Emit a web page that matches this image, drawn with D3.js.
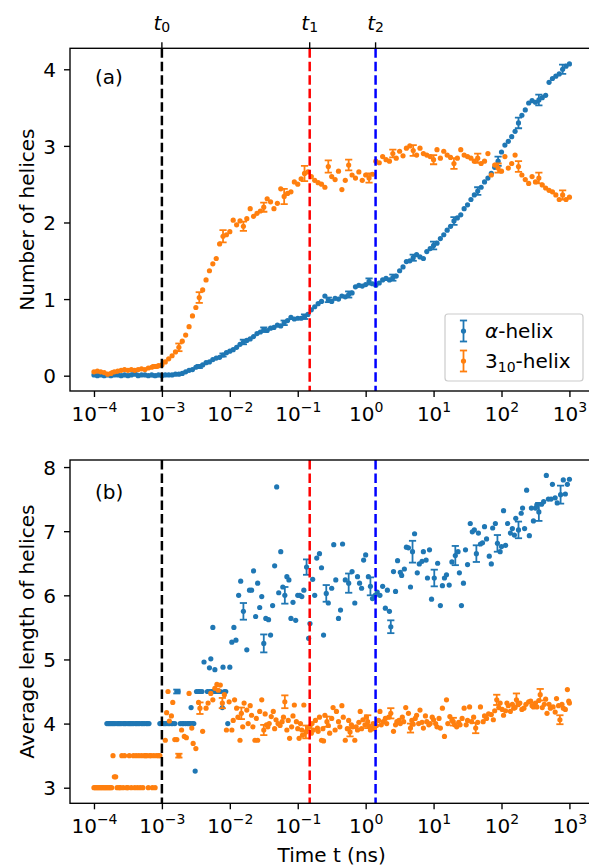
<!DOCTYPE html>
<html>
<head>
<meta charset="utf-8">
<script src="https://cdn.jsdelivr.net/npm/d3@7"></script>
<style>
body { margin: 0; background: #fff; }
svg { display: block; font-family: "DejaVu Sans", sans-serif; }
</style>
</head>
<body>
<div id="chart"></div>
<script>
// sample times of panel (a), as log10(t / ns)
var timeA = [
  -4.00,-3.95,-3.90,-3.85,-3.80,-3.75,-3.70,-3.65,-3.60,-3.55,
  -3.50,-3.45,-3.40,-3.35,-3.30,-3.25,-3.20,-3.15,-3.10,-3.05,
  -3.00,-2.95,-2.90,-2.85,-2.80,-2.75,-2.70,-2.65,-2.60,-2.55,
  -2.50,-2.45,-2.40,-2.35,-2.30,-2.25,-2.20,-2.15,-2.10,-2.05,
  -2.00,-1.95,-1.90,-1.85,-1.80,-1.75,-1.70,-1.65,-1.60,-1.55,
  -1.50,-1.45,-1.40,-1.35,-1.30,-1.25,-1.20,-1.15,-1.10,-1.05,
  -1.00,-0.95,-0.90,-0.85,-0.80,-0.75,-0.70,-0.65,-0.60,-0.55,
  -0.50,-0.45,-0.40,-0.35,-0.30,-0.25,-0.20,-0.15,-0.10,-0.05,
  0.00,0.05,0.10,0.15,0.20,0.25,0.30,0.35,0.40,0.45,
  0.50,0.55,0.60,0.65,0.70,0.75,0.80,0.85,0.90,0.95,
  1.00,1.05,1.10,1.15,1.20,1.25,1.30,1.35,1.40,1.45,
  1.50,1.55,1.60,1.65,1.70,1.75,1.80,1.85,1.90,1.95,
  2.00,2.05,2.10,2.15,2.20,2.25,2.30,2.35,2.40,2.45,
  2.50,2.55,2.60,2.65,2.70,2.75,2.80,2.85,2.90,2.95,
  3.00
];
// number of alpha helices
var alphaCount = [
  0.01,0.00,0.01,0.00,0.01,0.00,0.01,0.01,0.00,0.01,
  0.00,0.01,0.02,0.00,0.01,0.01,0.00,0.01,0.00,0.01,
  0.00,0.01,0.01,0.01,0.02,0.02,0.03,0.05,0.07,0.08,
  0.11,0.12,0.14,0.17,0.18,0.21,0.23,0.24,0.27,0.30,
  0.32,0.34,0.37,0.41,0.44,0.46,0.48,0.51,0.55,0.57,
  0.60,0.59,0.62,0.63,0.66,0.65,0.69,0.72,0.76,0.74,
  0.75,0.75,0.77,0.80,0.86,0.90,0.94,0.97,1.04,0.99,
  0.97,1.01,1.00,1.04,1.03,1.06,1.08,1.16,1.18,1.17,
  1.19,1.23,1.20,1.18,1.21,1.25,1.27,1.25,1.28,1.30,
  1.37,1.42,1.49,1.50,1.54,1.58,1.55,1.53,1.62,1.66,
  1.70,1.73,1.79,1.84,1.90,1.95,2.02,2.06,2.10,2.18,
  2.23,2.30,2.36,2.41,2.46,2.53,2.58,2.64,2.72,2.80,
  2.92,3.01,3.06,3.12,3.19,3.30,3.40,3.47,3.56,3.59,
  3.57,3.60,3.63,3.66,3.83,3.88,3.91,3.94,4.00,4.04,
  4.07
];
// number of 3_10 helices
var tenCount = [
  0.05,0.06,0.05,0.04,0.02,0.03,0.05,0.06,0.07,0.08,
  0.07,0.08,0.07,0.08,0.09,0.08,0.10,0.11,0.12,0.13,
  0.14,0.18,0.22,0.26,0.31,0.37,0.45,0.53,0.64,0.78,
  0.89,1.02,1.12,1.25,1.37,1.46,1.53,1.72,1.82,1.84,
  1.88,2.03,1.97,2.02,1.95,2.05,2.18,2.08,2.12,2.15,
  2.20,2.31,2.27,2.18,2.25,2.44,2.34,2.38,2.40,2.53,
  2.50,2.57,2.64,2.66,2.60,2.55,2.52,2.50,2.46,2.73,
  2.60,2.56,2.67,2.43,2.55,2.75,2.62,2.58,2.66,2.55,
  2.62,2.58,2.63,2.80,2.78,2.86,2.82,2.80,2.90,2.84,
  2.93,2.87,2.97,3.00,2.94,2.88,2.97,2.90,2.88,2.86,
  2.82,2.95,2.84,2.93,2.88,2.85,2.77,2.84,2.95,2.88,
  2.86,2.84,2.80,2.84,2.77,2.80,2.90,2.62,2.75,2.71,
  2.67,2.86,2.71,2.77,2.88,2.73,2.62,2.56,2.51,2.60,
  2.53,2.58,2.49,2.45,2.42,2.40,2.36,2.30,2.36,2.30,
  2.33
];
// error bars of panel (a): times and half widths
var errTimeA = [-3.70,-3.40,-3.10,-2.75,-2.45,-2.10,-1.80,-1.50,-1.20,-0.90,-0.55,
                -0.25,0.05,0.40,0.70,1.00,1.30,1.65,1.95,2.25,2.55,2.90];
var alphaCountErr = [0.01,0.01,0.01,0.01,0.02,0.02,0.03,0.03,0.03,0.03,0.03,
                     0.04,0.04,0.04,0.04,0.05,0.05,0.05,0.06,0.07,0.07,0.06];
var tenCountErr = [0.01,0.01,0.02,0.05,0.07,0.08,0.06,0.06,0.10,0.10,0.08,
                   0.07,0.06,0.05,0.07,0.06,0.07,0.06,0.06,0.07,0.07,0.06];

// panel (b): [log10 t, average length, error half width (optional)]
var alphaLength = [
  [-3.81,4],[-3.79,4],[-3.77,4],[-3.75,4],[-3.73,4],[-3.71,4],[-3.69,4],[-3.66,4],[-3.64,4],[-3.62,4],
  [-3.60,4],[-3.57,4],[-3.55,4],[-3.53,4],[-3.50,4],[-3.48,4],[-3.46,4],[-3.44,4],[-3.42,4],[-3.39,4],
  [-3.37,4],[-3.35,4],[-3.33,4],[-3.30,4],[-3.28,4],[-3.26,4],[-3.23,4],[-3.21,4],[-3.19,4],
  [-3.03,4],[-3.01,4],[-2.98,4],[-2.96,4],[-2.94,4],[-2.91,4],[-2.89,4],[-2.86,4],[-2.84,4],[-2.81,4],
  [-2.78,4.5,0.03],[-2.76,4.5],[-2.73,4],[-2.70,4],[-2.68,4],[-2.65,4],[-2.62,4],[-2.60,4],[-2.58,4],
  [-2.55,4],[-2.53,4],[-2.57,4.25],[-2.51,3.26],
  [-2.49,4.5],[-2.46,4.5],[-2.44,4.5],[-2.41,4.5],[-2.33,4.5],[-2.30,4.5],[-2.27,4.5],[-2.24,4.5],
  [-2.21,4.5],[-2.17,4.5],[-2.14,4.5],[-2.11,4.25],[-2.08,4.5],[-2.06,4.5],[-2.03,4.0],
  [-2.38,4.96],[-2.30,4.87],[-2.28,5.01],[-2.25,5.5],[-2.22,4.84],[-2.10,4.88],[-2.00,4.88],
  [-1.97,5.27],[-1.94,5.5],[-1.91,5.3],[-1.87,6.0],[-1.84,6.22],[-1.80,5.75,0.13],[-1.75,5.15],
  [-1.71,6.08],[-1.68,6.08],[-1.65,6.38],[-1.62,5.67],[-1.59,6.19],[-1.56,5.81],[-1.53,5.98],
  [-1.50,5.25,0.14],[-1.47,5.64],[-1.43,5.62],[-1.40,5.38],[-1.37,5.84],[-1.34,6.46],[-1.31,7.69],
  [-1.28,6.04],[-1.25,6.68],[-1.22,6.13],[-1.19,6.0,0.13],[-1.16,6.29],[-1.13,6.24],[-1.10,5.64],
  [-1.07,5.89],[-1.03,5.61],[-1.00,6.0],[-0.97,6.0],[-0.94,5.98],[-0.91,6.08],[-0.87,6.44,0.12],
  [-0.84,5.33],[-0.82,5.56],[-0.78,6.25],[-0.75,6.0],[-0.72,6.58],[-0.68,6.65],[-0.65,6.43],
  [-0.62,5.38],[-0.58,6.03,0.13],[-0.55,5.88],[-0.50,6.11],[-0.47,6.79],[-0.44,6.24],[-0.40,5.64],
  [-0.37,5.77],[-0.34,6.8],[-0.30,6.24],[-0.25,6.19,0.15],[-0.20,6.37],[-0.16,5.88],[-0.12,6.29],
  [-0.09,6.19],[-0.06,6.11],[-0.03,6.55],[0.00,6.63],[0.04,6.29],[0.07,6.14,0.14],[0.10,5.95],
  [0.14,6.0],[0.17,6.05],[0.21,6.0],[0.25,6.14],[0.29,5.8],[0.32,6.08],[0.35,5.75],[0.37,5.51,0.1],
  [0.41,6.37],[0.44,6.06],[0.47,6.54],[0.51,6.36],[0.53,6.31],[0.57,6.41],[0.60,6.75],[0.63,6.74],
  [0.66,6.13],[0.69,6.68,0.17],[0.72,6.96],[0.76,6.35],[0.79,6.49],[0.83,6.53],[0.85,6.68],
  [0.89,6.55],[0.91,6.27],[0.94,6.71],[0.97,5.94],[1.01,6.27,0.13],[1.06,6.5],[1.10,5.84],
  [1.13,6.15],[1.16,6.27],[1.19,6.32],[1.23,6.16],[1.27,6.52],[1.32,6.62,0.15],[1.36,6.68],
  [1.38,6.35],[1.41,5.84],[1.44,6.19],[1.47,6.71],[1.50,6.48],[1.54,7.12],[1.57,6.99],[1.60,7.02],
  [1.63,6.65,0.13],[1.66,6.97],[1.69,6.8],[1.72,6.82],[1.75,7.07],[1.78,6.88],[1.82,6.61],
  [1.85,6.49],[1.87,7.05],[1.91,7.12],[1.94,6.81,0.13],[1.98,6.68],[2.00,6.76],[2.03,7.32],
  [2.06,6.78],[2.09,7.12],[2.13,6.97],[2.16,7.04],[2.19,6.94],[2.21,7.2],[2.25,7.02,0.13],
  [2.29,7.28],[2.31,7.36],[2.34,7.04],[2.37,7.64],[2.41,6.93],[2.44,7.36],[2.47,7.16],[2.50,7.36],
  [2.52,7.41],[2.55,7.3,0.14],[2.59,7.42],[2.62,7.46],[2.66,7.87],[2.69,7.5],[2.73,7.5],[2.75,7.73],
  [2.79,7.52],[2.82,7.44],[2.87,7.57,0.14],[2.91,7.8],[2.94,7.58],[2.97,7.73],[3.00,7.81]
];
var tenLength = [
  [-4.00,3],[-3.98,3],[-3.96,3],[-3.94,3],[-3.92,3],[-3.90,3],[-3.88,3],[-3.86,3],[-3.84,3],[-3.82,3],
  [-3.80,3],[-3.78,3],[-3.76,3],[-3.74,3],[-3.72,3.5],[-3.70,3.17],[-3.68,3.17],[-3.66,3],[-3.63,3],
  [-3.61,3],[-3.59,3.5],[-3.57,3],[-3.55,3.5],[-3.52,3],[-3.50,3],[-3.48,3.5],[-3.45,3],[-3.42,3.5],
  [-3.40,3],[-3.38,3.5],[-3.36,3],[-3.34,3.5],[-3.32,3],[-3.30,3.5],[-3.28,3],[-3.26,3.5],[-3.24,3.5],
  [-3.22,3.5],[-3.20,3],[-3.18,3.5],[-3.16,3.5],[-3.14,3],[-3.12,3.5],[-3.10,3],[-3.08,3.5],
  [-3.05,3.5],[-3.03,3.5],
  [-2.95,3.74],[-2.93,4.17],[-2.91,4.5],[-2.89,4.04],[-2.86,4.12],[-2.84,4.33],[-2.81,3.75],
  [-2.78,3.75],[-2.75,3.5,0.03],[-2.71,3.9],[-2.67,3.8],[-2.64,3.78],[-2.60,4.47],[-2.56,3.93],
  [-2.54,3.69],[-2.50,3.61],[-2.46,4.33],[-2.44,4.24,0.09],[-2.40,3.88],[-2.35,4.24],[-2.32,4.32],
  [-2.28,4.47],[-2.25,4.37],[-2.22,4.55],[-2.19,4.61],[-2.17,4.52],[-2.14,4.6],[-2.11,4.32,0.08],
  [-2.08,4.45],[-2.05,3.9],[-2.01,4.34],[-1.97,3.9],[-1.93,4.37],[-1.90,4.24],[-1.85,3.74],
  [-1.83,4.16,0.09],[-1.79,4.32],[-1.75,4.21],[-1.70,4.28],[-1.68,4.13],[-1.63,3.74],[-1.59,3.74],
  [-1.56,4.19],[-1.53,4.37],[-1.50,3.9,0.08],[-1.46,3.98],[-1.42,4.0],[-1.39,4.11],[-1.36,4.19],
  [-1.32,4.06],[-1.29,4.0],[-1.26,3.97],[-1.23,4.03],[-1.19,4.34,0.1],[-1.16,3.9],[-1.12,3.77],
  [-1.09,3.95],[-1.05,4.29],[-1.02,4.03],[-0.98,3.77],[-0.94,3.9],[-0.91,4.29],[-0.88,3.87,0.1],
  [-0.85,3.93],[-0.82,3.95],[-0.80,3.85],[-0.77,3.9],[-0.74,4.05],[-0.71,3.93],[-0.68,4.1],
  [-0.65,3.74],[-0.62,3.73],[-0.60,4.13],[-0.57,4.03,0.08],[-0.53,3.85],[-0.48,4.25],[-0.43,4.19],
  [-0.40,4.03],[-0.35,4.28],[-0.30,3.74],[-0.27,3.92],[-0.23,3.87,0.07],[-0.19,3.95],[-0.16,3.74],
  [-0.12,3.9],[-0.08,4.19],[-0.04,4.06],[-0.01,3.98],[0.03,4.03,0.1],[0.07,3.9],[0.11,4.0],
  [0.16,3.97],[0.21,4.19],[0.26,4.03],[0.31,4.0],[0.37,4.16,0.08],[0.41,3.88],[0.46,4.03],
  [0.51,4.0],[0.56,4.03],[0.59,4.25],[0.63,4.16],[0.66,3.93,0.07],[0.70,3.99],[0.75,4.13],
  [0.80,4.21],[0.85,3.93],[0.90,4.03],[0.95,4.0],[1.00,4.06],[1.05,3.95],[1.10,3.93],[1.13,4.24],
  [1.16,3.8],[1.19,4.37],[1.24,4.11],[1.29,4.03,0.06],[1.34,3.95],[1.39,3.98],[1.45,4.24],
  [1.53,4.26],[1.56,4.03],[1.62,3.93,0.08],[1.69,4.26],[1.73,4.03],[1.78,4.08],[1.85,4.14],
  [1.88,4.06],[1.93,4.37,0.08],[1.98,4.32],[2.03,4.13],[2.08,4.32],[2.13,4.19],[2.18,4.24],
  [2.22,4.37,0.1],[2.27,4.32],[2.33,4.24],[2.40,4.34],[2.47,4.26],[2.52,4.26],[2.57,4.45,0.09],
  [2.63,4.3],[2.67,4.16],[2.72,4.24],[2.76,4.26],[2.81,4.39],[2.86,4.06,0.07],[2.91,4.24],
  [2.97,4.53],[3.00,4.32],
  [-1.95,4.05],[-1.88,4.1],[-1.81,3.95],[-1.73,4.0],[-1.66,3.95],[-1.61,4.08],[-1.48,4.15],
  [-1.44,3.95],[-1.34,3.92],[-1.21,4.1],[-1.14,4.05],[-1.07,4.12],[-1.00,3.92],[-0.96,4.0],
  [-0.93,3.82],[-0.79,4.0],[-0.70,3.88],[-0.63,3.92],[-0.55,3.97],[-0.50,4.08],[-0.45,3.9],
  [-0.38,3.95],[-0.33,4.1],[-0.25,4.05],[-0.21,3.98],[-0.14,3.95],[-0.10,4.02],[-0.06,3.92],
  [0.01,4.1],[0.05,3.96],[0.09,3.93],[0.13,3.92],[0.19,4.05],[0.23,3.98],[0.29,4.08],[0.34,4.1],
  [0.44,3.98],[0.49,4.05],[0.54,4.1],[0.68,4.05],[0.73,4.08],[0.78,4.0],[0.83,4.02],[0.88,4.12],
  [0.93,3.98],[0.98,4.1],[1.03,4.0],[1.08,4.08],[1.21,4.0],[1.27,4.05],[1.31,3.98],[1.37,4.02],
  [1.42,4.08],[1.48,3.98],[1.50,4.05],[1.59,4.1],[1.65,4.02],[1.75,4.12],[1.81,4.15],[1.90,4.2],
  [1.96,4.25],[2.01,4.22],[2.06,4.2],[2.10,4.28],[2.16,4.3],[2.20,4.25],[2.25,4.3],[2.30,4.22],
  [2.36,4.3],[2.43,4.35],[2.45,4.28],[2.50,4.32],[2.55,4.36],[2.60,4.25],[2.65,4.38],[2.70,4.3],
  [2.79,4.18],[2.84,4.28],[2.89,4.3],[2.94,4.22],[2.99,4.35]
];

// reference times t0, t1, t2 (ns)
var markTimes = [1e-3, 0.15, 1.4];
var markNames = ["0", "1", "2"];
var xTickExps = [-4, -3, -2, -1, 0, 1, 2, 3];
var countTicks = [0, 1, 2, 3, 4];
var lengthTicks = [3, 4, 5, 6, 7, 8];

var width = 589, height = 867;
var fs = 20, fsSmall = 14;
var blue = "#1f77b4", orange = "#ff7f0e";
var markColors = ["black", "red", "blue"];

var svg = d3.select("#chart").append("svg")
    .attr("width", width)
    .attr("height", height);

var left = 70, right = 593.4;
var x = d3.scaleLog()
    .domain([Math.pow(10, -4.353), Math.pow(10, 3.353)])
    .range([left, right]);

function pow10(e) { return Math.pow(10, e); }

function lookup(times, vals, t) { return vals[times.indexOf(t)]; }

var seriesA = [
  { color: blue, pts: timeA.map(function(t, i){ return [t, alphaCount[i]]; }),
    errs: errTimeA.map(function(t, i){ return [t, lookup(timeA, alphaCount, t), alphaCountErr[i]]; }) },
  { color: orange, pts: timeA.map(function(t, i){ return [t, tenCount[i]]; }),
    errs: errTimeA.map(function(t, i){ return [t, lookup(timeA, tenCount, t), tenCountErr[i]]; }) }
];
var seriesB = [
  { color: blue, pts: alphaLength, errs: alphaLength.filter(function(d){ return d.length > 2; }) },
  { color: orange, pts: tenLength, errs: tenLength.filter(function(d){ return d.length > 2; }) }
];

var panels = [
  { top: 48.3, bottom: 391, domain: [-0.2, 4.274], ticks: countTicks, series: seriesA,
    label: "Number of helices", tag: "(a)", tagY: 84 },
  { top: 460, bottom: 803.3, domain: [2.757, 8.11], ticks: lengthTicks, series: seriesB,
    label: "Average length of helices", tag: "(b)", tagY: 499 }
];

function expLabel(d) {
  var e = Math.round(Math.log10(d));
  return e < 0 ? "\u2212" + (-e) : "" + e;
}

panels.forEach(function(p, pi){
  var y = d3.scaleLinear().domain(p.domain).range([p.bottom, p.top]);
  var g = svg.append("g");

  var clipId = "clip" + pi;
  svg.append("clipPath").attr("id", clipId)
    .append("rect")
    .attr("x", left).attr("y", p.top)
    .attr("width", right - left).attr("height", p.bottom - p.top);

  var plot = g.append("g").attr("clip-path", "url(#" + clipId + ")");

  p.series.forEach(function(s){
    var eb = plot.append("g")
        .attr("stroke", s.color)
        .attr("stroke-width", 1.8);
    eb.selectAll("line.bar").data(s.errs).enter().append("line")
      .attr("class", "bar")
      .attr("x1", function(d){ return x(pow10(d[0])); })
      .attr("x2", function(d){ return x(pow10(d[0])); })
      .attr("y1", function(d){ return y(d[1] - d[2]); })
      .attr("y2", function(d){ return y(d[1] + d[2]); });
    [-1, 1].forEach(function(sign){
      eb.selectAll("line.cap" + sign).data(s.errs).enter().append("line")
        .attr("x1", function(d){ return x(pow10(d[0])) - 3.6; })
        .attr("x2", function(d){ return x(pow10(d[0])) + 3.6; })
        .attr("y1", function(d){ return y(d[1] + sign * d[2]); })
        .attr("y2", function(d){ return y(d[1] + sign * d[2]); });
    });
    plot.append("g").selectAll("circle").data(s.pts).enter().append("circle")
      .attr("cx", function(d){ return x(pow10(d[0])); })
      .attr("cy", function(d){ return y(d[1]); })
      .attr("r", 2.6)
      .attr("fill", s.color);
  });

  // reference lines
  plot.selectAll("line.mark").data(markTimes).enter().append("line")
    .attr("class", "mark")
    .attr("x1", function(d){ return x(d); })
    .attr("x2", function(d){ return x(d); })
    .attr("y1", p.top).attr("y2", p.bottom)
    .attr("stroke", function(d, i){ return markColors[i]; })
    .attr("stroke-width", 2.5)
    .attr("stroke-dasharray", "9.4,4.1");

  // x axis
  var xa = g.append("g")
    .attr("transform", "translate(0," + p.bottom + ")")
    .call(d3.axisBottom(x).tickValues(xTickExps.map(pow10)).tickSize(6).tickSizeOuter(0));
  xa.attr("font-family", null).attr("font-size", fs);
  xa.select(".domain").remove();
  xa.selectAll(".tick line").attr("stroke-width", 1.36);
  xa.selectAll(".tick text")
    .attr("y", 30).attr("dy", null).attr("fill", "black")
    .text(null)
    .each(function(d){
      var t = d3.select(this);
      t.append("tspan").text("10");
      t.append("tspan").attr("dy", -9).attr("font-size", fsSmall).text(expLabel(d));
    });

  // y axis
  var ya = g.append("g")
    .attr("transform", "translate(" + left + ",0)")
    .call(d3.axisLeft(y).tickValues(p.ticks).tickSize(6).tickPadding(8).tickFormat(d3.format("d")));
  ya.attr("font-family", null).attr("font-size", fs);
  ya.select(".domain").remove();
  ya.selectAll(".tick line").attr("stroke-width", 1.36);
  ya.selectAll(".tick text").attr("fill", "black").attr("dy", "0.36em");

  // frame
  g.append("rect")
    .attr("x", left).attr("y", p.top)
    .attr("width", right - left).attr("height", p.bottom - p.top)
    .attr("fill", "none").attr("stroke", "black").attr("stroke-width", 1.36);

  g.append("text")
    .attr("transform", "translate(33.5," + ((p.top + p.bottom) / 2) + ") rotate(-90)")
    .attr("text-anchor", "middle")
    .attr("font-size", fs)
    .text(p.label);

  g.append("text")
    .attr("x", 95).attr("y", p.tagY)
    .attr("font-size", fs)
    .text(p.tag);
});

// top ticks with t0, t1, t2
var topY = panels[0].top;
var marks = svg.append("g");
marks.selectAll("line").data(markTimes).enter().append("line")
  .attr("x1", function(d){ return x(d); })
  .attr("x2", function(d){ return x(d); })
  .attr("y1", topY).attr("y2", topY - 6)
  .attr("stroke", "black").attr("stroke-width", 1.36);
marks.selectAll("text").data(markTimes).enter().append("text")
  .attr("x", function(d){ return x(d); })
  .attr("y", 30)
  .attr("text-anchor", "middle")
  .attr("font-size", fs)
  .each(function(d, i){
    var t = d3.select(this);
    t.append("tspan").attr("font-style", "italic").text("t");
    t.append("tspan").attr("dy", 2).attr("font-size", fsSmall).text(markNames[i]);
  });

// legend
var lg = svg.append("g");
lg.append("rect")
  .attr("x", 445).attr("y", 314).attr("width", 138).attr("height", 67)
  .attr("rx", 3)
  .attr("fill", "white").attr("fill-opacity", 0.8)
  .attr("stroke", "#cccccc").attr("stroke-width", 1.2);
var legendItems = [
  { color: blue, cy: 331 },
  { color: orange, cy: 361 }
];
legendItems.forEach(function(item, i){
  var hx = 463.5;
  lg.append("line").attr("x1", hx).attr("x2", hx)
    .attr("y1", item.cy - 10.5).attr("y2", item.cy + 10.5)
    .attr("stroke", item.color).attr("stroke-width", 1.8);
  [-10.5, 10.5].forEach(function(off){
    lg.append("line").attr("x1", hx - 3.6).attr("x2", hx + 3.6)
      .attr("y1", item.cy + off).attr("y2", item.cy + off)
      .attr("stroke", item.color).attr("stroke-width", 1.8);
  });
  lg.append("circle").attr("cx", hx).attr("cy", item.cy).attr("r", 2.6).attr("fill", item.color);
  var t = lg.append("text").attr("x", 485).attr("y", item.cy + 6.5).attr("font-size", fs);
  if (i === 0) {
    t.append("tspan").attr("font-style", "italic").text("\u03b1");
    t.append("tspan").text("-helix");
  } else {
    t.append("tspan").text("3");
    t.append("tspan").attr("dy", 4).attr("font-size", fsSmall).text("10");
    t.append("tspan").attr("dy", -4).text("-helix");
  }
});

svg.append("text")
  .attr("x", (left + right) / 2).attr("y", 862)
  .attr("text-anchor", "middle")
  .attr("font-size", fs)
  .text("Time t (ns)");
</script>
</body>
</html>
